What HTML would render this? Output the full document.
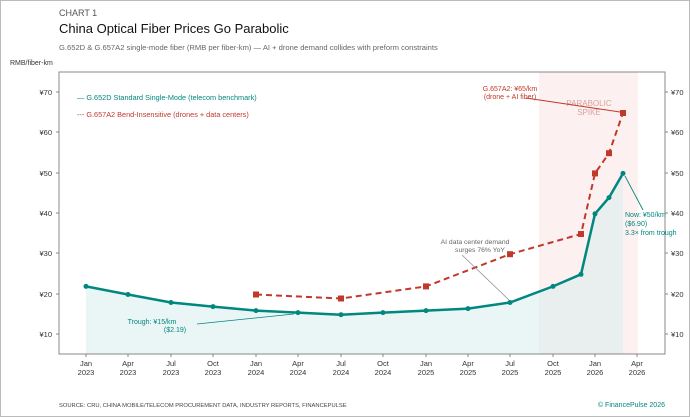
<!DOCTYPE html>
<html><head><meta charset="utf-8"><style>
html,body{margin:0;padding:0;background:#fff}
svg{display:block;font-family:"Liberation Sans",sans-serif}
</style></head><body>
<svg width="690" height="417" viewBox="0 0 690 417" xmlns="http://www.w3.org/2000/svg">
<rect x="0.5" y="0.5" width="689" height="416" fill="#fff" stroke="#bbb"/>
<text x="59" y="16" font-size="9" fill="#555">CHART 1</text>
<text x="59" y="33" font-size="13" fill="#111">China Optical Fiber Prices Go Parabolic</text>
<text x="59" y="50" font-size="7.6" fill="#666">G.652D &amp; G.657A2 single-mode fiber (RMB per fiber-km) — AI + drone demand collides with preform constraints</text>
<text x="10" y="65" font-size="7" fill="#333">RMB/fiber-km</text>
<!-- spike region -->
<rect x="539" y="72" width="99" height="282" fill="#fdf0f0"/>
<text x="589" y="106" font-size="8" fill="#d9a0a0" text-anchor="middle">PARABOLIC</text>
<text x="589" y="115" font-size="8" fill="#d9a0a0" text-anchor="middle">SPIKE</text>
<!-- teal area -->
<polygon fill="#d9ecec" fill-opacity="0.55" points="86,354 86,286.4 128,294.5 171,302.5 213,306.6 256,310.6 298,312.6 341,314.7 383,312.6 426,310.6 468,308.6 510,302.5 553,286.4 581,274.3 595,213.8 609,197.6 623,173.4 623,354"/>
<!-- axes box -->
<rect x="59" y="72" width="606" height="282" fill="none" stroke="#888" stroke-width="1"/>
<g font-size="7.5" fill="#333">
<g text-anchor="end">
<text x="52" y="95">¥70</text><text x="52" y="135">¥60</text><text x="52" y="176">¥50</text><text x="52" y="216">¥40</text><text x="52" y="256">¥30</text><text x="52" y="297">¥20</text><text x="52" y="337">¥10</text>
</g>
<text x="671" y="95">¥70</text><text x="671" y="135">¥60</text><text x="671" y="176">¥50</text><text x="671" y="216">¥40</text><text x="671" y="256">¥30</text><text x="671" y="297">¥20</text><text x="671" y="337">¥10</text>
<g stroke="#888"><path d="M56 92h3M56 132h3M56 173h3M56 213h3M56 253h3M56 294h3M56 334h3M665 92h3M665 132h3M665 173h3M665 213h3M665 253h3M665 294h3M665 334h3"/>
<path d="M86 354v3M128 354v3M171 354v3M213 354v3M256 354v3M298 354v3M341 354v3M383 354v3M426 354v3M468 354v3M510 354v3M553 354v3M595 354v3M637 354v3"/></g>
<g text-anchor="middle">
<text x="86" y="366">Jan</text><text x="86" y="375">2023</text>
<text x="128" y="366">Apr</text><text x="128" y="375">2023</text>
<text x="171" y="366">Jul</text><text x="171" y="375">2023</text>
<text x="213" y="366">Oct</text><text x="213" y="375">2023</text>
<text x="256" y="366">Jan</text><text x="256" y="375">2024</text>
<text x="298" y="366">Apr</text><text x="298" y="375">2024</text>
<text x="341" y="366">Jul</text><text x="341" y="375">2024</text>
<text x="383" y="366">Oct</text><text x="383" y="375">2024</text>
<text x="426" y="366">Jan</text><text x="426" y="375">2025</text>
<text x="468" y="366">Apr</text><text x="468" y="375">2025</text>
<text x="510" y="366">Jul</text><text x="510" y="375">2025</text>
<text x="553" y="366">Oct</text><text x="553" y="375">2025</text>
<text x="595" y="366">Jan</text><text x="595" y="375">2026</text>
<text x="637" y="366">Apr</text><text x="637" y="375">2026</text>
</g></g>
<!-- red dashed -->
<polyline fill="none" stroke="#c0392b" stroke-width="2" stroke-dasharray="6,4" points="256,294.5 341,298.5 426,286.4 510,254.2 581,234 595,173.4 609,153.2 623,113"/>
<g fill="#c0392b"><rect x="253" y="291.5" width="6" height="6"/><rect x="338" y="295.5" width="6" height="6"/><rect x="423" y="283.4" width="6" height="6"/><rect x="507" y="251.2" width="6" height="6"/><rect x="578" y="231" width="6" height="6"/><rect x="592" y="170.4" width="6" height="6"/><rect x="606" y="150.2" width="6" height="6"/><rect x="620" y="110" width="6" height="6"/></g>
<!-- teal line -->
<polyline fill="none" stroke="#00877f" stroke-width="2.5" points="86,286.4 128,294.5 171,302.5 213,306.6 256,310.6 298,312.6 341,314.7 383,312.6 426,310.6 468,308.6 510,302.5 553,286.4 581,274.3 595,213.8 609,197.6 623,173.4"/>
<g fill="#00877f"><circle cx="86" cy="286.4" r="2.5"/><circle cx="128" cy="294.5" r="2.5"/><circle cx="171" cy="302.5" r="2.5"/><circle cx="213" cy="306.6" r="2.5"/><circle cx="256" cy="310.6" r="2.5"/><circle cx="298" cy="312.6" r="2.5"/><circle cx="341" cy="314.7" r="2.5"/><circle cx="383" cy="312.6" r="2.5"/><circle cx="426" cy="310.6" r="2.5"/><circle cx="468" cy="308.6" r="2.5"/><circle cx="510" cy="302.5" r="2.5"/><circle cx="553" cy="286.4" r="2.5"/><circle cx="581" cy="274.3" r="2.5"/><circle cx="595" cy="213.8" r="2.5"/><circle cx="609" cy="197.6" r="2.5"/><circle cx="623" cy="173.4" r="2.5"/></g>
<!-- legend -->
<text x="77" y="100" font-size="7.3" fill="#00877f">— G.652D Standard Single-Mode (telecom benchmark)</text>
<text x="77" y="117" font-size="7.3" fill="#c0392b">--- G.657A2 Bend-Insensitive (drones + data centers)</text>
<!-- annotations -->
<text x="152" y="324" font-size="7" fill="#00877f" text-anchor="middle">Trough: ¥15/km</text>
<text x="175" y="332" font-size="7" fill="#00877f" text-anchor="middle">($2.19)</text>
<line x1="197" y1="324" x2="294" y2="314" stroke="#00877f" stroke-width="0.8"/>
<text x="475" y="244" font-size="6.8" fill="#666" text-anchor="middle">AI data center demand</text>
<text x="480" y="252" font-size="6.8" fill="#666" text-anchor="middle">surges 76% YoY</text>
<line x1="462" y1="255" x2="509" y2="300" stroke="#888" stroke-width="0.7"/>
<text x="510" y="91" font-size="7" fill="#c0392b" text-anchor="middle">G.657A2: ¥65/km</text>
<text x="510" y="99" font-size="7" fill="#c0392b" text-anchor="middle">(drone + AI fiber)</text>
<line x1="526" y1="98" x2="620" y2="112" stroke="#c0392b" stroke-width="0.9"/>
<text x="625" y="217" font-size="7" fill="#00877f">Now: ¥50/km</text>
<text x="625" y="226" font-size="7" fill="#00877f">($6.90)</text>
<text x="625" y="235" font-size="7" fill="#00877f">3.3× from trough</text>
<line x1="643" y1="210" x2="625" y2="176" stroke="#00877f" stroke-width="0.9"/>
<text x="59" y="407" font-size="5.8" fill="#444">SOURCE: CRU, CHINA MOBILE/TELECOM PROCUREMENT DATA, INDUSTRY REPORTS, FINANCEPULSE</text>
<text x="665" y="407" font-size="7" fill="#00877f" text-anchor="end">© FinancePulse 2026</text>
</svg>
</body></html>
